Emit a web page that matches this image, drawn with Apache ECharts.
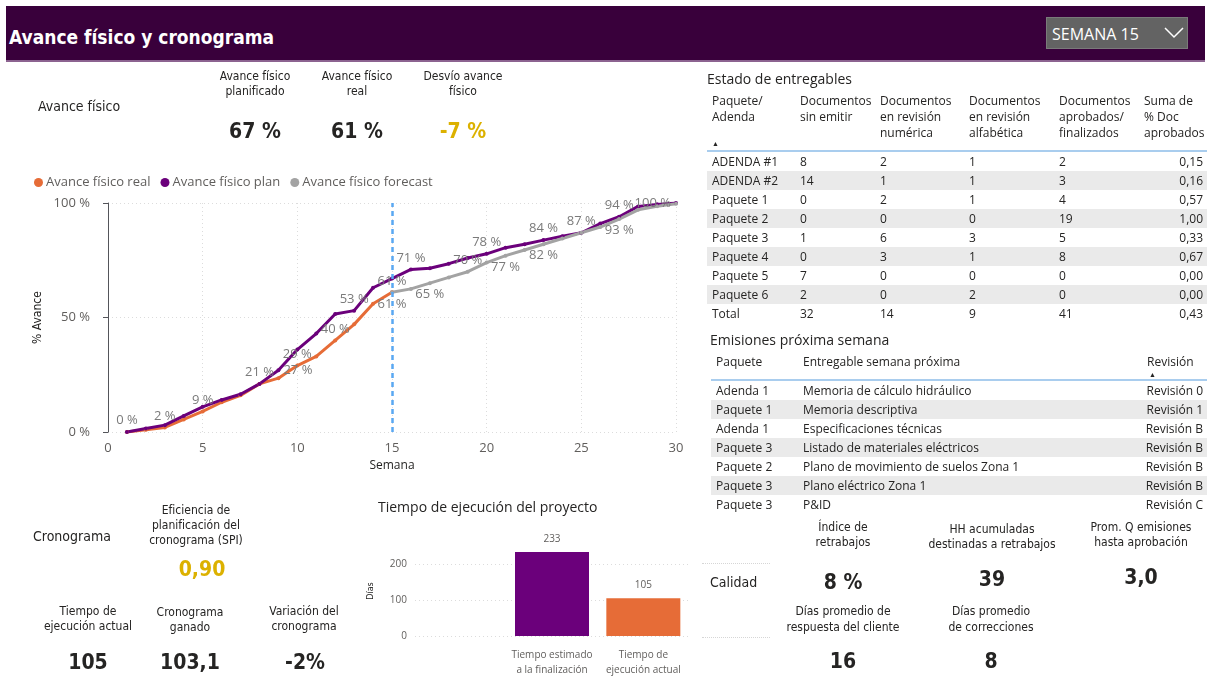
<!DOCTYPE html>
<html lang="es">
<head>
<meta charset="utf-8">
<title>Avance físico y cronograma</title>
<script src="https://cdn.jsdelivr.net/npm/echarts@6/dist/echarts.min.js"></script>
<style>
	body { margin: 0; width: 1211px; height: 678px; position: relative; overflow: hidden; background: #fff;
		font-family: "Open Sans", "Noto Sans", sans-serif; color: #252423; }
	#panel { position: absolute; left: 0; top: 0; width: 1211px; height: 678px; }
	.a { position: absolute; white-space: nowrap; }
	.din { font-family: "DejaVu Sans Condensed", "Liberation Sans Narrow", sans-serif; }
	.hdr { left: 6px; top: 6px; width: 1199px; height: 54px; background: #39003b; border-bottom: 2px solid #8c6390; }
	.hdr h1 { margin: 0; position: absolute; left: 3px; top: 19px; font-size: 19px; line-height: 24px; color: #fff; }
	.sel { left: 1046px; top: 17px; width: 140px; height: 30px; background: #636363; border: 1px solid #7a7a7a; color: #fff;
		font-size: 16px; line-height: 30px; }
	.sec { font-size: 14px; line-height: 18px; }
	.kt { font-size: 12px; line-height: 15px; text-align: center; width: 170px; }
	.kv { font-size: 21px; line-height: 26px; font-weight: bold; text-align: center; width: 120px; }
	.gold { color: #dcb100; }
	.ttl { font-size: 14px; line-height: 18px; color: #252423; }
	table { position: absolute; border-collapse: collapse; font-size: 12px; color: #252423; table-layout: fixed; }
	td, th { padding: 0 0 0 5px; font-weight: normal; text-align: left; white-space: nowrap; }
	th { vertical-align: top; line-height: 16px; }
	td { height: 19px; line-height: 19px; }
	tr.g td { background: #eaeaea; }
	thead tr { border-bottom: 2px solid #a9cdee; }
	.r { text-align: right; padding-right: 4px; }
	.arw { font-size: 7px; line-height: 9px; display: block; }
	.dot { border-top: 1px dotted #d6d6d6; height: 0; }
</style>
</head>
<body>
	<div id="panel"></div>

	<!-- cabecera -->
	<div class="a hdr"><h1 class="din">Avance físico y cronograma</h1></div>
	<div class="a sel"><span style="position:absolute;left:5px;top:1px">SEMANA 15</span>
		<svg style="position:absolute;left:117px;top:9px" width="20" height="12"><polyline points="1,1 10,10 19,1" fill="none" stroke="#fff" stroke-width="1.5"/></svg>
	</div>

	<!-- avance fisico -->
	<div class="a din sec" style="left:38px;top:97px">Avance físico</div>
	<div class="a din kt" style="left:170px;top:69px">Avance físico<br>planificado</div>
	<div class="a din kt" style="left:272px;top:69px">Avance físico<br>real</div>
	<div class="a din kt" style="left:378px;top:69px">Desvío avance<br>físico</div>
	<div class="a din kv" style="left:195px;top:118px">67 %</div>
	<div class="a din kv" style="left:297px;top:118px">61 %</div>
	<div class="a din kv gold" style="left:403px;top:118px">-7 %</div>

	<!-- cronograma -->
	<div class="a din sec" style="left:33px;top:527px">Cronograma</div>
	<div class="a din kt" style="left:111px;top:503px">Eficiencia de<br>planificación del<br>cronograma (SPI)</div>
	<div class="a din kv gold" style="left:142px;top:556px">0,90</div>
	<div class="a din kt" style="left:3px;top:604px">Tiempo de<br>ejecución actual</div>
	<div class="a din kt" style="left:105px;top:605px">Cronograma<br>ganado</div>
	<div class="a din kt" style="left:219px;top:604px">Variación del<br>cronograma</div>
	<div class="a din kv" style="left:28px;top:649px">105</div>
	<div class="a din kv" style="left:130px;top:649px">103,1</div>
	<div class="a din kv" style="left:245px;top:649px">-2%</div>

	<div class="a ttl" style="left:378px;top:498px">Tiempo de ejecución del proyecto</div>

	<!-- calidad -->
	<div class="a dot" style="left:702px;top:563px;width:68px"></div>
	<div class="a dot" style="left:702px;top:637px;width:68px"></div>
	<div class="a din sec" style="left:710px;top:573px">Calidad</div>
	<div class="a din kt" style="left:758px;top:520px">Índice de<br>retrabajos</div>
	<div class="a din kt" style="left:907px;top:522px">HH acumuladas<br>destinadas a retrabajos</div>
	<div class="a din kt" style="left:1056px;top:520px">Prom. Q emisiones<br>hasta aprobación</div>
	<div class="a din kv" style="left:783px;top:569px">8 %</div>
	<div class="a din kv" style="left:932px;top:566px">39</div>
	<div class="a din kv" style="left:1081px;top:564px">3,0</div>
	<div class="a din kt" style="left:758px;top:603px;line-height:16px">Días promedio de<br>respuesta del cliente</div>
	<div class="a din kt" style="left:906px;top:603px;line-height:16px">Días promedio<br>de correcciones</div>
	<div class="a din kv" style="left:783px;top:648px">16</div>
	<div class="a din kv" style="left:931px;top:648px">8</div>

	<!-- tablas -->
	<div class="a ttl" style="left:707px;top:70px">Estado de entregables</div>
	<table id="tEnt" style="left:707px;top:93px;width:500px"></table>
	<div class="a ttl" style="left:710px;top:331px">Emisiones próxima semana</div>
	<table id="tEmi" style="left:711px;top:354px;width:496px"></table>

	<script>
		// semanas y avance (%)
		const semanas = [1, 2, 3, 4, 5, 6, 7, 8, 9, 10, 11, 12, 13, 14, 15, 16, 17, 18, 19, 20, 21, 22, 23, 24, 25, 26, 27, 28, 29, 30];
		const avanceReal = [0, 1, 2, 5.5, 9, 13, 16, 21, 23.5, 29, 33, 40, 47, 56, 61,
			null, null, null, null, null, null, null, null, null, null, null, null, null, null, null];
		const avancePlan = [0, 1.5, 3, 7, 11, 14, 16.5, 21, 27, 36, 43, 51.5, 53, 63, 67,
			71, 71.5, 73.5, 76, 77.8, 80.5, 82, 83.8, 85.5, 87, 91, 94, 98.5, 99.4, 100];
		const avanceForecast = [null, null, null, null, null, null, null, null, null, null, null, null, null, null, 61,
			62.5, 65, 67.5, 70, 74, 77, 79.5, 82, 84.5, 87, 89.5, 93, 97, 98.6, 99.7];
		const semanaActual = 15;

		// etiquetas visibles: semana -> posicion
		const etqReal = { 1: 'top', 3: 'top', 5: 'top', 8: 'top', 10: 'top', 12: 'top', 15: 'bottom' };
		const etqPlan = { 9: 'right', 13: 'top', 16: 'top', 20: 'top', 23: 'top', 25: 'top', 27: 'top', 30: 'left' };
		const etqForecast = { 15: 'top', 17: 'bottom', 19: 'top', 21: 'bottom', 23: 'bottom', 27: 'bottom' };

		// tiempo de ejecucion (dias)
		const tiempoCats = ['', 'Tiempo estimado\na la finalización', 'Tiempo de\nejecución actual'];
		const tiempoDias = ['-', 233, 105];

		// estado de entregables
		const entCols = ['Paquete/<br>Adenda<span class="arw" style="margin-top:14px">▲</span>', 'Documentos<br>sin emitir', 'Documentos<br>en revisión<br>numérica',
			'Documentos<br>en revisión<br>alfabética', 'Documentos<br>aprobados/<br>finalizados', 'Suma de<br>% Doc<br>aprobados'];
		const entPaquetes = ['ADENDA #1', 'ADENDA #2', 'Paquete 1', 'Paquete 2', 'Paquete 3', 'Paquete 4', 'Paquete 5', 'Paquete 6', 'Total'];
		const sinEmitir = [8, 14, 0, 0, 1, 0, 7, 2, 32];
		const revNumerica = [2, 1, 2, 0, 6, 3, 0, 0, 14];
		const revAlfabetica = [1, 1, 1, 0, 3, 1, 0, 2, 9];
		const aprobados = [2, 3, 4, 19, 5, 8, 0, 0, 41];
		const pctAprobados = ['0,15', '0,16', '0,57', '1,00', '0,33', '0,67', '0,00', '0,00', '0,43'];

		// emisiones proxima semana
		const emiPaquete = ['Adenda 1', 'Paquete 1', 'Adenda 1', 'Paquete 3', 'Paquete 2', 'Paquete 3', 'Paquete 3'];
		const emiEntregable = ['Memoria de cálculo hidráulico', 'Memoria descriptiva', 'Especificaciones técnicas',
			'Listado de materiales eléctricos', 'Plano de movimiento de suelos Zona 1', 'Plano eléctrico Zona 1', 'P&amp;ID'];
		const emiRevision = ['Revisión 0', 'Revisión 1', 'Revisión B', 'Revisión B', 'Revisión B', 'Revisión B', 'Revisión C'];

		// tabla 1
		let h = '<colgroup><col style="width:88px"><col style="width:80px"><col style="width:89px"><col style="width:90px"><col style="width:85px"><col style="width:68px"></colgroup>';
		h += '<thead><tr>' + entCols.map((c, i) => '<th' + (i == 5 ? ' style="height:57px"' : '') + '>' + c + '</th>').join('') + '</tr></thead><tbody>';
		entPaquetes.forEach((p, i) => {
			h += '<tr' + (i % 2 ? ' class="g"' : '') + '><td>' + p + '</td><td>' + sinEmitir[i] + '</td><td>' + revNumerica[i] +
				'</td><td>' + revAlfabetica[i] + '</td><td>' + aprobados[i] + '</td><td class="r">' + pctAprobados[i] + '</td></tr>';
		});
		document.getElementById('tEnt').innerHTML = h + '</tbody>';

		// tabla 2
		h = '<colgroup><col style="width:87px"><col style="width:329px"><col style="width:80px"></colgroup>';
		h += '<thead><tr><th style="height:24px">Paquete</th><th>Entregable semana próxima</th><th style="padding-left:20px">Revisión<span class="arw" style="padding-left:2px">▲</span></th></tr></thead><tbody>';
		emiPaquete.forEach((p, i) => {
			h += '<tr' + (i % 2 ? ' class="g"' : '') + '><td>' + p + '</td><td>' + emiEntregable[i] + '</td><td class="r">' + emiRevision[i] + '</td></tr>';
		});
		document.getElementById('tEmi').innerHTML = h + '</tbody>';

		// puntos con etiqueta
		function puntos(valores, etq) {
			return valores.map((v, i) => {
				const s = semanas[i];
				if (v === null) return [s, null];
				return etq[s] ? { value: [s, v], label: { show: true, position: etq[s] } } : [s, v];
			});
		}

		const lbl = { formatter: (p) => Math.round(p.value[1]) + ' %', color: '#7a7a7a', fontSize: 13, fontFamily: 'Open Sans', distance: 3 };
		const dotted = { lineStyle: { color: '#dcdcdc', type: [1, 3], width: 1 } };
		const barColors = ['#6b007b', '#6b007b', '#e66c37'];

		const panel = echarts.init(document.getElementById('panel'));
		const option = {
			animation: false,
			textStyle: { fontFamily: 'Open Sans' },
			color: ['#e66c37', '#6b007b', '#a3a3a3'],
			legend: {
				left: 29, top: 171, icon: 'circle', itemWidth: 9, itemHeight: 9, itemGap: 10,
				textStyle: { color: '#605e5c', fontSize: 13, padding: [0, 0, 0, -2] },
				data: ['Avance físico real', 'Avance físico plan', 'Avance físico forecast']
			},
			grid: [
				{ left: 108, right: 535, top: 203, bottom: 246 },
				{ left: 415, right: 522, top: 546, bottom: 42 }
			],
			xAxis: [{
				type: 'value', min: 0, max: 30, interval: 5,
				axisLine: { show: false }, axisTick: { show: false },
				axisLabel: { color: '#605e5c', fontSize: 13, margin: 10 },
				splitLine: dotted,
				name: 'Semana', nameLocation: 'middle', nameGap: 28,
				nameTextStyle: { color: '#252423', fontSize: 12 }
			}, {
				type: 'category', gridIndex: 1, data: tiempoCats,
				axisLine: { show: false }, axisTick: { show: false },
				axisLabel: { color: '#605e5c', fontSize: 10, lineHeight: 15, margin: 12, interval: 0 }
			}],
			yAxis: [{
				type: 'value', min: 0, max: 100, interval: 50,
				axisLabel: { color: '#605e5c', fontSize: 13, margin: 18, formatter: '{value} %' },
				splitLine: dotted,
				name: '% Avance', nameLocation: 'middle', nameGap: 64,
				nameTextStyle: { color: '#252423', fontSize: 12, fontFamily: 'DejaVu Sans Condensed' }
			}, {
				type: 'value', gridIndex: 1, min: 0, max: 250, interval: 100,
				axisLabel: { color: '#605e5c', fontSize: 10, margin: 8, showMaxLabel: false },
				splitLine: Object.assign({ showMaxLine: false }, dotted),
				name: 'Días', nameLocation: 'middle', nameGap: 40,
				nameTextStyle: { color: '#252423', fontSize: 9, fontFamily: 'DejaVu Sans Condensed' }
			}],
			series: [{
				name: 'Avance físico real', type: 'line', data: puntos(avanceReal, etqReal),
				symbol: 'circle', symbolSize: 4, lineStyle: { width: 3 }, label: lbl, connectNulls: false
			}, {
				name: 'Avance físico plan', type: 'line', data: puntos(avancePlan, etqPlan),
				symbol: 'circle', symbolSize: 4, lineStyle: { width: 3 }, label: lbl,
				markLine: {
					silent: true, symbol: 'none', label: { show: false },
					lineStyle: { color: '#5aa8f2', type: [5, 4], width: 2.5 },
					data: [{ xAxis: semanaActual }]
				}
			}, {
				name: 'Avance físico forecast', type: 'line', data: puntos(avanceForecast, etqForecast),
				symbol: 'circle', symbolSize: 4, lineStyle: { width: 3 }, label: lbl
			}, {
				type: 'bar', xAxisIndex: 1, yAxisIndex: 1, data: tiempoDias, barWidth: 74,
				itemStyle: { color: (p) => barColors[p.dataIndex] },
				label: { show: true, position: 'top', distance: 8, color: '#605e5c', fontSize: 10 }
			}]
		};
		panel.setOption(option);
	</script>
</body>
</html>
